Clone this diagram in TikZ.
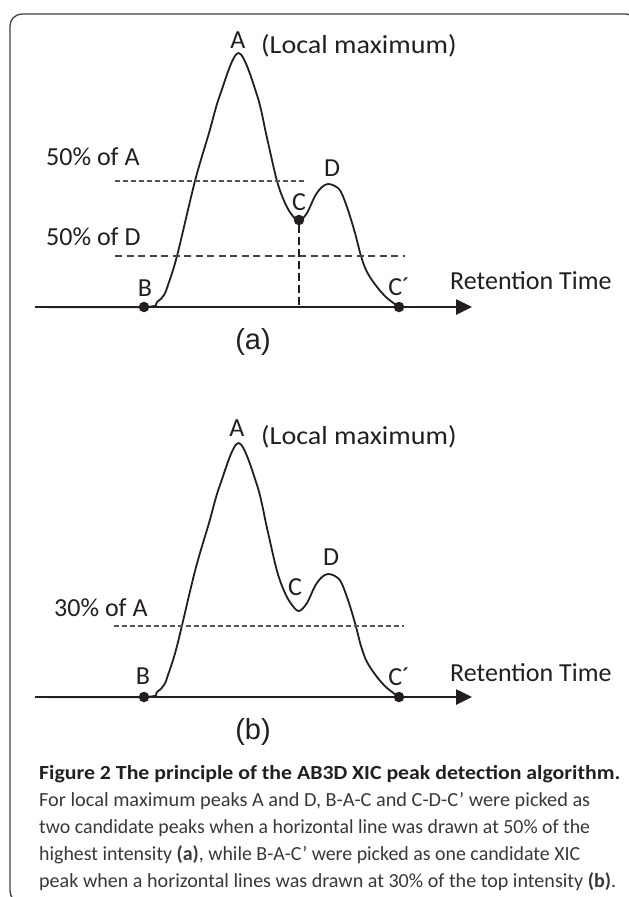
\documentclass[tikz,border=0pt]{standalone}
\usepackage{fontspec}
\usepackage{graphicx}
\setmainfont{Carlito}
\newfontfamily\panelfont{Liberation Sans}
\usetikzlibrary{arrows.meta}
\definecolor{ink}{HTML}{231F20}
\definecolor{dashgray}{HTML}{555555}
\definecolor{captxt}{HTML}{383838}
\tikzset{
  frame/.style={draw=ink!85, line width=1.3pt, rounded corners=12pt},
  curve/.style={draw=ink, line width=1.8pt, line join=round},
  axisline/.style={draw=ink, line width=2.6pt, -{Triangle[length=16pt,width=15pt]}},
  dot/.style={circle, fill=ink, inner sep=0pt, minimum size=10.5pt},
  lab/.style={font=\fontsize{26}{30}\selectfont, text=ink, inner sep=0pt},
  thindash/.style={draw=dashgray, line width=1.1pt, dash pattern=on 5pt off 3pt},
  meddash/.style={draw=ink!85, line width=1.3pt, dash pattern=on 7pt off 4.5pt},
  vdash/.style={draw=ink, line width=1.6pt, dash pattern=on 8pt off 4pt},
  panellab/.style={font=\panelfont\fontsize{29}{32}\selectfont, text=ink, inner sep=0pt},
  captext/.style={anchor=base west, inner sep=0pt, text=captxt, font=\fontsize{20}{24}\selectfont},
}
\newcommand\peakline{plot[smooth, tension=0.55] coordinates {(35,307) (144,307) (157,302) (164,295) (168,285) (177,256) (195,181) (209,133) (220,95) (238.5,53) (257,95) (267,138) (277,181) (285,203) (292,215) (299,221) (307,213) (315,196) (322,187) (328,184) (335,186) (341,192) (348,210) (355,233) (361,256) (367,272) (377,287) (387,298) (399,307)}}
\begin{document}
\begin{tikzpicture}[x=1pt,y=-1pt]
\useasboundingbox (0,0) rectangle (629,897);
\begin{scope}
  \clip (0,0) rectangle (629,897);
  \draw[frame] (10,14) rectangle (638,903);
\end{scope}

% ---------- panel (a) ----------
\draw[curve] \peakline;
\node[dot] (aB) at (144,307) {};
\node[dot] (aCp) at (399,307) {};
\node[dot] (aC) at (299,220) {};
\coordinate (aAxL) at (35,307);
\coordinate (aAxR) at (472,307);
\draw[axisline] (aAxL) -- (aAxR);
\coordinate (aHAl) at (115,181); \coordinate (aHAr) at (305,181);
\draw[thindash] (aHAl) -- (aHAr);
\coordinate (aHDl) at (115,256); \coordinate (aHDr) at (405,256);
\draw[meddash] (aHDl) -- (aHDr);
\coordinate (aCfoot) at (299,306);
\draw[vdash] (aC) -- (aCfoot);
\node[lab] (aA) at (238,40) {A};
\node[lab, anchor=west] (aLM) at (261,46) {\scalebox{1.08}[1]{(Local maximum)}};
\node[lab] (aD) at (332,168) {D};
\node[lab] (aCl) at (299,202) {C};
\node[lab] (aBl) at (145,288) {B};
\node[lab] (aCpl) at (399,287) {C´};
\node[lab, anchor=west] (aRT) at (450,281) {Retention Time};
\node[lab, anchor=west] (aPA) at (46,157) {50\% of A};
\node[lab, anchor=west] (aPD) at (46,237) {50\% of D};
\node[panellab] (alab) at (253,342) {(a)};

% ---------- panel (b) ----------
\begin{scope}[shift={(0,390)}]
\draw[curve] \peakline;
\node[dot] (bB) at (144,307) {};
\node[dot] (bCp) at (399,307) {};
\coordinate (bAxL) at (35,307);
\coordinate (bAxR) at (472,307);
\draw[axisline] (bAxL) -- (bAxR);
\coordinate (bHl) at (114,236); \coordinate (bHr) at (404,236);
\draw[thindash] (bHl) -- (bHr);
\node[lab] (bA) at (237,38) {A};
\node[lab, anchor=west] (bLM) at (261,47) {\scalebox{1.08}[1]{(Local maximum)}};
\node[lab] (bD) at (331,167) {D};
\node[lab] (bCl) at (295,197) {C};
\node[lab] (bBl) at (143,286) {B};
\node[lab] (bCpl) at (399,287) {C´};
\node[lab, anchor=west] (bRT) at (450,283) {Retention Time};
\node[lab, anchor=west] (bPA) at (54,218) {30\% of A};
\node[panellab] (blab) at (253,342) {(b)};
\end{scope}

% ---------- caption ----------
\node[captext, text=ink] (cap1) at (39,779) {\resizebox{581pt}{\height}{\bfseries Figure 2 The principle of the AB3D XIC peak detection algorithm.}};
\node[captext] (cap2) at (39,806) {\resizebox{551pt}{\height}{For local maximum peaks A and D, B-A-C and C-D-C’ were picked as}};
\node[captext] (cap3) at (39,833) {\resizebox{551pt}{\height}{two candidate peaks when a horizontal line was drawn at 50\% of the}};
\node[captext] (cap4) at (39,860) {\resizebox{541pt}{\height}{highest intensity \textbf{(a)}, while B-A-C’ were picked as one candidate XIC}};
\node[captext] (cap5) at (39,887) {\resizebox{577pt}{\height}{peak when a horizontal lines was drawn at 30\% of the top intensity \textbf{(b)}.}};
\end{tikzpicture}
\end{document}
